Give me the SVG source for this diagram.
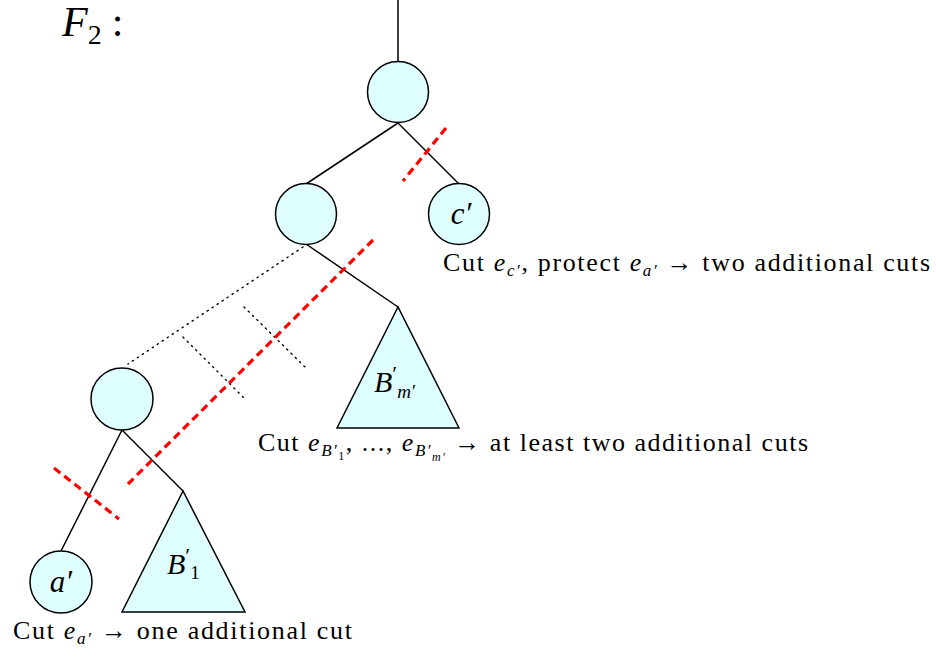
<svg xmlns="http://www.w3.org/2000/svg" width="936" height="657" viewBox="0 0 936 657">
<style>
.edge{stroke:#000;stroke-width:1.5;fill:none}
.dot{stroke:#000;stroke-width:1.4;fill:none;stroke-dasharray:1.3 4.7;stroke-linecap:round}
.cut{stroke:#ff0000;stroke-width:3.2;fill:none;stroke-dasharray:8 5}
.node{fill:#dfffff;stroke:#000;stroke-width:1.5}
.t{font-family:"Liberation Serif","DejaVu Serif",serif;fill:#000}
.i{font-style:italic}
</style>
<rect width="936" height="657" fill="#fff"/>
<text class="t" x="62" y="36" font-size="42"><tspan class="i">F</tspan><tspan font-size="28" dy="8">2</tspan><tspan dy="-8" dx="10">:</tspan></text>
<g id="connectors">
<line class="edge" x1="398" y1="0" x2="398" y2="62"/>
<line class="edge" x1="398" y1="123" x2="306" y2="184"/>
<line class="edge" x1="398" y1="123" x2="459" y2="184"/>
<line class="edge" x1="306" y1="244" x2="398" y2="307"/>
<line class="dot" x1="303" y1="247" x2="128" y2="364"/>
<line class="dot" x1="244" y1="307" x2="305" y2="367"/>
<line class="dot" x1="183" y1="337" x2="244" y2="398"/>
<line class="edge" x1="122" y1="430" x2="61" y2="551"/>
<line class="edge" x1="122" y1="430" x2="183" y2="491"/>
<line class="cut" x1="446" y1="128" x2="403" y2="181"/>
<line class="cut" x1="373" y1="240" x2="128" y2="484"/>
<line class="cut" x1="54" y1="468" x2="119" y2="519"/>
</g>
<g id="root"><circle class="node" cx="398" cy="92" r="30.5"/></g>
<g id="left"><circle class="node" cx="306" cy="214" r="30.5"/></g>
<g id="c"><circle class="node" cx="459" cy="214" r="30.5"/><text class="t i" x="461" y="224" font-size="31" text-anchor="middle">c′</text></g>
<g id="Bm"><polygon class="node" points="398,307 337,428 459,428"/><text class="t" x="374" y="392" font-size="30"><tspan class="i">B</tspan><tspan dy="-11" font-size="22">′</tspan><tspan class="i" font-size="19" dy="17">m′</tspan></text></g>
<g id="lowerleft"><circle class="node" cx="122" cy="399" r="31"/></g>
<g id="a"><circle class="node" cx="61" cy="582" r="31"/><text class="t i" x="61" y="592" font-size="31" text-anchor="middle">a′</text></g>
<g id="B1"><polygon class="node" points="183,491 122,612 245,612"/><text class="t" x="167" y="574" font-size="30"><tspan class="i">B</tspan><tspan dy="-11" font-size="22">′</tspan><tspan font-size="19" dy="16">1</tspan></text></g>
<text class="t" x="443" y="271" font-size="26" textLength="487" lengthAdjust="spacing">Cut <tspan class="i">e</tspan><tspan class="i" font-size="17" dy="5">c′</tspan><tspan dy="-5">, protect </tspan><tspan class="i">e</tspan><tspan class="i" font-size="17" dy="5">a′</tspan><tspan dy="-5"> → two additional cuts</tspan></text>
<text class="t" x="258" y="451" font-size="26" textLength="550" lengthAdjust="spacing">Cut <tspan class="i">e</tspan><tspan class="i" font-size="17" dy="5">B′</tspan><tspan font-size="12" dy="4">1</tspan><tspan dy="-9">, ..., </tspan><tspan class="i">e</tspan><tspan class="i" font-size="17" dy="5">B′</tspan><tspan class="i" font-size="12" dy="5">m′</tspan><tspan dy="-10"> → at least two additional cuts</tspan></text>
<text class="t" x="13" y="639" font-size="26" textLength="339" lengthAdjust="spacing">Cut <tspan class="i">e</tspan><tspan class="i" font-size="17" dy="5">a′</tspan><tspan dy="-5"> → one additional cut</tspan></text>
</svg>
